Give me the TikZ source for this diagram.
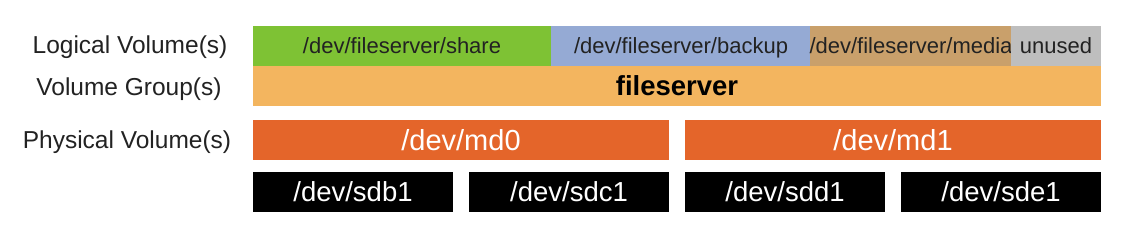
\documentclass[tikz,border=0pt]{standalone}
\usepackage{fontspec}
\setmainfont{Liberation Sans}

\definecolor{lvgreen}{HTML}{7EC234}
\definecolor{lvblue}{HTML}{95AAD4}
\definecolor{lvtan}{HTML}{C9A06B}
\definecolor{lvgrey}{HTML}{BEBEBE}
\definecolor{vgorange}{HTML}{F3B55F}
\definecolor{pvorange}{HTML}{E4652A}
\definecolor{labeltext}{HTML}{222222}

\begin{document}
\begin{tikzpicture}[x=1pt, y=-1pt,
  bar/.style={rectangle, inner sep=0pt, minimum height=40pt, text depth=0pt},
  lvbar/.style={bar, text=labeltext, text height=15.8pt,
    font=\fontsize{22}{26}\selectfont},
  disk/.style={bar, fill=black, text=white, minimum width=200pt,
    text height=19.7pt, font=\fontsize{27.5}{32}\selectfont},
  rowlabel/.style={text=labeltext, text height=17.5pt, text depth=0pt,
    font=\fontsize{24.5}{29}\selectfont}]
  \useasboundingbox (0,0) rectangle (1126,240);

  % Row labels
  \node[rowlabel] (lvlabel) at (130,45) {Logical Volume(s)};
  \node[rowlabel] (vglabel) at (129,87) {Volume Group(s)};
  \node[rowlabel] (pvlabel) at (127,140) {Physical Volume(s)};

  % Logical volumes
  \node[lvbar, fill=lvgreen, minimum width=298pt] (share) at (402,46) {/dev/fileserver/share};
  \node[lvbar, fill=lvblue, minimum width=260pt] (backup) at (681,46) {/dev/fileserver/backup};
  \node[lvbar, fill=lvtan, minimum width=200pt] (media) at (911,46) {/dev/fileserver/media};
  \node[lvbar, fill=lvgrey, minimum width=90pt] (unused) at (1056,46) {unused};

  % Volume group
  \node[bar, fill=vgorange, minimum width=848pt, text height=19.7pt,
    font=\fontsize{27.5}{32}\selectfont\bfseries] (fileserver) at (677,86) {fileserver};

  % Physical volumes
  \foreach \name/\x in {md0/461, md1/893}
    \node[bar, fill=pvorange, text=white, minimum width=416pt, text height=20.8pt,
      font=\fontsize{29}{34}\selectfont] (\name) at (\x,140) {/dev/\name};

  % Disks
  \foreach \name/\x in {sdb1/353, sdc1/569, sdd1/785, sde1/1001}
    \node[disk] (\name) at (\x,192) {/dev/\name};
\end{tikzpicture}
\end{document}
